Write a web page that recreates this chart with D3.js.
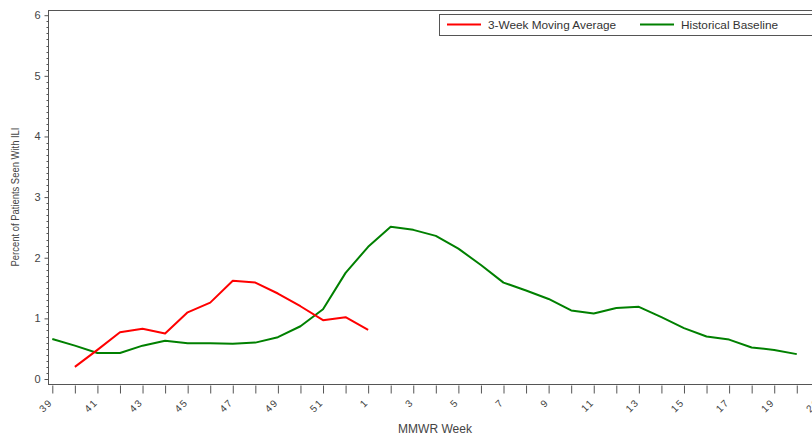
<!DOCTYPE html>
<html>
<head>
<meta charset="utf-8">
<script src="https://cdn.jsdelivr.net/npm/d3@7/dist/d3.min.js"></script>
<style>
  html, body { margin: 0; padding: 0; background: #fff; overflow: hidden; }
  svg { display: block; font-family: "Liberation Sans", Arial, sans-serif; }
</style>
</head>
<body>
<svg id="chart" width="812" height="435"></svg>
<script>
// MMWR weeks shown on the x axis (season runs from week 39 into the next year)
const weeks = ["39","40","41","42","43","44","45","46","47","48","49","50","51","52",
  "1","2","3","4","5","6","7","8","9","10","11","12","13","14","15","16","17","18","19","20","21"];

// 3-week moving average of % of patients seen with ILI (weeks 40 .. 1)
const movingAvgWeeks = ["40","41","42","43","44","45","46","47","48","49","50","51","52","1"];
const movingAvgValues = [0.20, 0.48, 0.77, 0.83, 0.75, 1.10, 1.26, 1.62, 1.59, 1.41, 1.20, 0.97, 1.02, 0.81];

// Historical baseline (weeks 39 .. 20)
const baselineWeeks = ["39","40","41","42","43","44","45","46","47","48","49","50","51","52",
  "1","2","3","4","5","6","7","8","9","10","11","12","13","14","15","16","17","18","19","20"];
const baselineValues = [0.66, 0.55, 0.43, 0.43, 0.55, 0.63, 0.59, 0.59, 0.58, 0.60, 0.69, 0.87, 1.15, 1.75,
  2.18, 2.51, 2.46, 2.36, 2.15, 1.88, 1.59, 1.46, 1.32, 1.13, 1.08, 1.17, 1.19, 1.02, 0.84, 0.70, 0.65, 0.52, 0.48, 0.41];

const yTicks = [0, 1, 2, 3, 4, 5, 6];
const seriesNames = ["3-Week Moving Average", "Historical Baseline"];
const seriesColors = ["#ff0000", "#008000"];

const svg = d3.select("#chart");
const axisColor = "#555";
const textColor = "#444";

const x = d3.scalePoint().domain(weeks).range([52.3, 52.3 + 34 * 22.56]);
const y = d3.scaleLinear().domain([0, 6]).range([379, 15.2]);

const frameLeft = 48, frameTop = 10, frameBottom = 384;

// Frame: top border line (right border sits past the visible area)
svg.append("line")
  .attr("x1", frameLeft).attr("x2", 812)
  .attr("y1", frameTop + 0.5).attr("y2", frameTop + 0.5)
  .attr("stroke", axisColor).attr("stroke-width", 1);

// Y axis: minor ticks every 0.1, major ticks on integers
const yAxisG = svg.append("g").attr("transform", `translate(${frameLeft + 0.5},0)`);
yAxisG.append("line")
  .attr("y1", frameTop).attr("y2", frameBottom)
  .attr("stroke", axisColor);
const minorTicks = d3.range(0, 60).map(i => i / 10).filter(v => Math.abs(v - Math.round(v)) > 1e-6);
yAxisG.selectAll("line.minor").data(minorTicks).join("line")
  .attr("class", "minor")
  .attr("x1", -2).attr("x2", 0)
  .attr("y1", d => Math.round(y(d)) + 0.5).attr("y2", d => Math.round(y(d)) + 0.5)
  .attr("stroke", axisColor);
const yAxis = d3.axisLeft(y).tickValues(yTicks).tickSize(4).tickPadding(4).tickFormat(d3.format("d"));
const yg = svg.append("g").attr("transform", `translate(${frameLeft + 0.5},0)`).call(yAxis);
yg.select(".domain").remove();
yg.selectAll(".tick line").attr("stroke", axisColor);
yg.selectAll(".tick text").attr("fill", textColor).attr("font-size", 11)
  .attr("font-family", "Liberation Sans, Arial, sans-serif");

// X axis: a tick every week, labels on odd weeks
const labelled = new Set(weeks.filter((w, i) => i % 2 === 0));
const xAxis = d3.axisBottom(x).tickSize(9).tickPadding(2)
  .tickFormat(d => labelled.has(d) ? d : "");
const xg = svg.append("g").attr("transform", `translate(0,${frameBottom + 0.5})`).call(xAxis);
xg.select(".domain").remove();
xg.append("line").attr("x1", frameLeft).attr("x2", 812).attr("y1", 0).attr("y2", 0)
  .attr("stroke", axisColor);
xg.selectAll(".tick line").attr("stroke", axisColor).attr("y1", 1);
xg.selectAll(".tick text")
  .attr("fill", textColor).attr("font-size", 10)
  .attr("font-family", "Liberation Sans, Arial, sans-serif")
  .attr("letter-spacing", "1.5px")
  .attr("text-anchor", "end")
  .attr("x", 0).attr("y", 0)
  .attr("dy", "0.35em")
  .attr("transform", "translate(-2,16) rotate(-45)");

// Axis titles
svg.append("text")
  .attr("x", 435).attr("y", 433)
  .attr("text-anchor", "middle")
  .attr("font-size", 12).attr("fill", textColor)
  .text("MMWR Week");
svg.append("text")
  .attr("transform", `translate(18.5,197) rotate(-90)`)
  .attr("text-anchor", "middle")
  .attr("font-size", 10).attr("fill", textColor)
  .attr("textLength", 139).attr("lengthAdjust", "spacingAndGlyphs")
  .text("Percent of Patients Seen With ILI");

// Series lines
const line = d3.line().x(d => x(d[0])).y(d => y(d[1]));
const baselineData = baselineWeeks.map((w, i) => [w, baselineValues[i]]);
const movingData = movingAvgWeeks.map((w, i) => [w, movingAvgValues[i]]);

svg.append("path").datum(baselineData)
  .attr("d", line).attr("fill", "none")
  .attr("stroke", seriesColors[1]).attr("stroke-width", 2)
  .attr("stroke-linejoin", "round");
svg.append("path").datum(movingData)
  .attr("d", line).attr("fill", "none")
  .attr("stroke", seriesColors[0]).attr("stroke-width", 2)
  .attr("stroke-linejoin", "round");

// Legend box
const legend = svg.append("g");
legend.append("rect")
  .attr("x", 439.5).attr("y", 14.5).attr("width", 400).attr("height", 21)
  .attr("fill", "#fff").attr("stroke", axisColor);
const legendItems = [
  { name: seriesNames[0], color: seriesColors[0], x0: 447, tx: 488 },
  { name: seriesNames[1], color: seriesColors[1], x0: 640, tx: 681 }
];
legendItems.forEach(it => {
  legend.append("line")
    .attr("x1", it.x0).attr("x2", it.x0 + 34)
    .attr("y1", 24.5).attr("y2", 24.5)
    .attr("stroke", it.color).attr("stroke-width", 2);
  legend.append("text")
    .attr("x", it.tx).attr("y", 28.8)
    .attr("font-size", 11.8).attr("fill", "#333")
    .text(it.name);
});
</script>
</body>
</html>
